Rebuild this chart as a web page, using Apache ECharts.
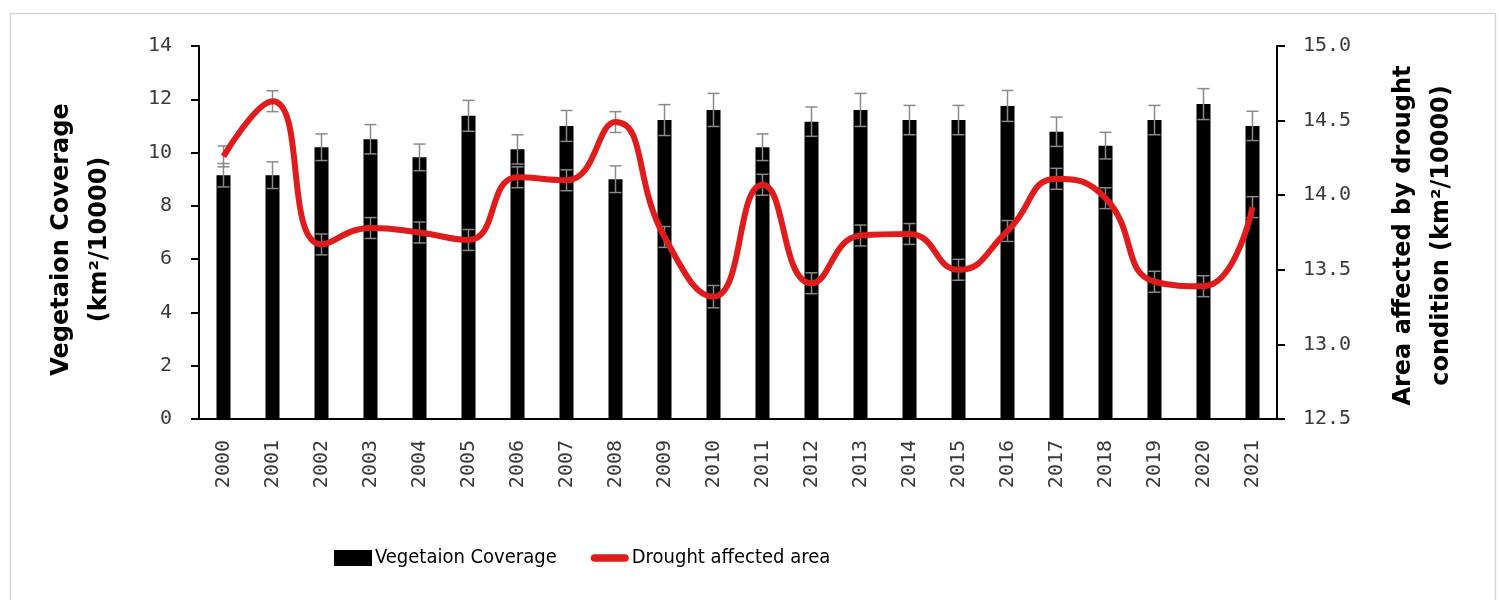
<!DOCTYPE html>
<html>
<head>
<meta charset="utf-8">
<script src="https://cdn.jsdelivr.net/npm/echarts@6/dist/echarts.min.js"></script>
<style>
  html, body { margin: 0; padding: 0; background: #fff; }
  #chart { width: 1499px; height: 600px; }
</style>
</head>
<body>
<div id="chart"></div>
<script>
// Years on the category axis
const years = ['2000','2001','2002','2003','2004','2005','2006','2007','2008','2009','2010',
               '2011','2012','2013','2014','2015','2016','2017','2018','2019','2020','2021'];

// Vegetation coverage (km²/10000) and its error
const vegetation = [9.15, 9.15, 10.2, 10.5, 9.82, 11.38, 10.12, 11.0, 9.0, 11.22, 11.6,
                    10.2, 11.16, 11.6, 11.22, 11.22, 11.75, 10.78, 10.26, 11.22, 11.82, 11.0];
const vegetationErr = [0.44, 0.5, 0.5, 0.55, 0.5, 0.58, 0.55, 0.58, 0.5, 0.58, 0.62,
                       0.5, 0.55, 0.62, 0.55, 0.55, 0.58, 0.55, 0.5, 0.55, 0.58, 0.55];

// Area affected by drought condition (km²/10000) and its error
const drought = [14.26, 14.63, 13.67, 13.78, 13.75, 13.70, 14.12, 14.10, 14.49, 13.72, 13.32,
                 14.07, 13.41, 13.73, 13.74, 13.50, 13.76, 14.11, 13.98, 13.42, 13.39, 13.92];
const droughtErr = [0.07, 0.07, 0.07, 0.07, 0.07, 0.07, 0.07, 0.07, 0.07, 0.07, 0.075,
                    0.07, 0.07, 0.07, 0.07, 0.07, 0.07, 0.07, 0.07, 0.07, 0.07, 0.07];

// Axis tick settings
const leftTicks = { min: 0, max: 14, interval: 2 };
const rightTicks = { min: 12.5, max: 15, interval: 0.5 };

const ERR_COLOR = '#8a8a8a';
const LINE_COLOR = '#e01b1b';
const TICK_FONT = 'DejaVu Sans Mono';

function errorData(values, errs) {
  return values.map((v, i) => [i, v - errs[i], v + errs[i]]);
}

function renderErrorBar(params, api) {
  const x = api.value(0);
  const lo = api.coord([x, api.value(1)]);
  const hi = api.coord([x, api.value(2)]);
  const half = 6;
  const style = { stroke: ERR_COLOR, lineWidth: 1.5 };
  return {
    type: 'group',
    children: [
      { type: 'line', shape: { x1: hi[0], y1: hi[1], x2: lo[0], y2: lo[1] }, style },
      { type: 'line', shape: { x1: hi[0] - half, y1: hi[1], x2: hi[0] + half, y2: hi[1] }, style },
      { type: 'line', shape: { x1: lo[0] - half, y1: lo[1], x2: lo[0] + half, y2: lo[1] }, style }
    ]
  };
}

const chart = echarts.init(document.getElementById('chart'), null, { renderer: 'canvas' });

const axisLabelStyle = { color: '#3a3a3a', fontFamily: TICK_FONT, fontSize: 20 };
const nameStyle = { color: '#000', fontFamily: 'DejaVu Sans', fontWeight: 'bold', fontSize: 24, lineHeight: 38 };

// Capsule-shaped legend mark for the line series (bounding box kept at 40x16)
const lineLegendIcon = 'path://M0,0M40,16M4,4L36,4Q40,4,40,8Q40,12,36,12L4,12Q0,12,0,8Q0,4,4,4Z';

chart.setOption({
  backgroundColor: '#fff',
  animation: false,
  graphic: [{
    type: 'rect',
    left: 8, top: 11,
    shape: { width: 1485, height: 620 },
    style: { fill: 'none', stroke: '#d6d6d6', lineWidth: 1.5 },
    silent: true
  }],
  grid: { left: 199, right: 222, top: 46, bottom: 181 },
  legend: {
    left: 329, top: 543,
    itemWidth: 38, itemHeight: 16, itemGap: 34,
    textStyle: { color: '#000', fontFamily: 'DejaVu Sans Condensed', fontSize: 20, padding: [0, 0, 0, -2] },
    data: [
      { name: 'Vegetaion Coverage', icon: 'rect' },
      { name: 'Drought affected area', icon: lineLegendIcon, itemStyle: { color: LINE_COLOR } }
    ]
  },
  xAxis: {
    type: 'category',
    data: years,
    boundaryGap: true,
    axisLine: { lineStyle: { color: '#000', width: 2 } },
    axisTick: { alignWithLabel: true, length: 7, lineStyle: { color: '#000', width: 2 } },
    axisLabel: Object.assign({ rotate: 90, margin: 21, interval: 0 }, axisLabelStyle),
    splitLine: { show: false }
  },
  yAxis: [
    {
      type: 'value',
      min: leftTicks.min, max: leftTicks.max, interval: leftTicks.interval,
      name: 'Vegetaion Coverage\n(km²/10000)',
      nameLocation: 'middle', nameRotate: 90, nameGap: 80,
      nameTextStyle: Object.assign({ padding: [0, 14, 0, 0] }, nameStyle),
      axisLine: { show: true, lineStyle: { color: '#000', width: 2 } },
      axisTick: { show: true, length: 8, lineStyle: { color: '#000', width: 2 } },
      axisLabel: Object.assign({ margin: 27 }, axisLabelStyle),
      splitLine: { show: false }
    },
    {
      type: 'value',
      position: 'right',
      min: rightTicks.min, max: rightTicks.max, interval: rightTicks.interval,
      name: 'Area affected by drought\ncondition (km²/10000)',
      nameLocation: 'middle', nameRotate: 90, nameGap: 108,
      nameTextStyle: Object.assign({ padding: [0, 6, 0, 0] }, nameStyle),
      axisLine: { show: true, lineStyle: { color: '#000', width: 2 } },
      axisTick: { show: true, length: 8, lineStyle: { color: '#000', width: 2 } },
      axisLabel: Object.assign({ margin: 26, formatter: v => v.toFixed(1) }, axisLabelStyle),
      splitLine: { show: false }
    }
  ],
  series: [
    {
      name: 'Vegetaion Coverage',
      type: 'bar',
      yAxisIndex: 0,
      data: vegetation,
      barWidth: 14,
      itemStyle: { color: '#000' },
      z: 2
    },
    {
      name: 'vegetationError',
      type: 'custom',
      yAxisIndex: 0,
      data: errorData(vegetation, vegetationErr),
      renderItem: renderErrorBar,
      encode: { x: 0, y: [1, 2] },
      silent: true,
      z: 3
    },
    {
      name: 'droughtError',
      type: 'custom',
      yAxisIndex: 1,
      data: errorData(drought, droughtErr),
      renderItem: renderErrorBar,
      encode: { x: 0, y: [1, 2] },
      silent: true,
      z: 4
    },
    {
      name: 'Drought affected area',
      type: 'line',
      yAxisIndex: 1,
      data: drought,
      smooth: 0.5,
      symbol: 'none',
      lineStyle: { color: LINE_COLOR, width: 6 },
      itemStyle: { color: LINE_COLOR },
      z: 5
    }
  ]
});
</script>
</body>
</html>
